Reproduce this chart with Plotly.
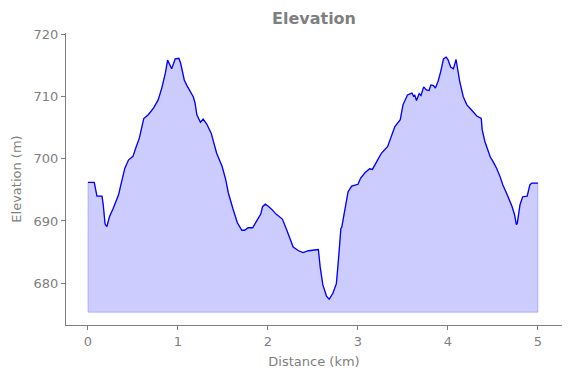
import plotly.graph_objects as go

distance_km = [0.0, 0.07, 0.10, 0.156, 0.17, 0.19, 0.21, 0.24, 0.28, 0.34, 0.37, 0.41, 0.45, 0.50,
               0.53, 0.57, 0.62, 0.67, 0.73, 0.78, 0.82, 0.86, 0.885, 0.93, 0.97, 1.01, 1.03, 1.07,
               1.10, 1.17, 1.19, 1.21, 1.25, 1.28, 1.32, 1.37, 1.43, 1.49, 1.53, 1.56, 1.61, 1.66,
               1.71, 1.74, 1.78, 1.83, 1.87, 1.92, 1.94, 1.97, 2.00, 2.04, 2.09, 2.16, 2.21, 2.28,
               2.34, 2.39, 2.45, 2.50, 2.55, 2.56, 2.58, 2.61, 2.65, 2.68, 2.72, 2.76, 2.78, 2.81,
               2.82, 2.86, 2.89, 2.93, 3.00, 3.03, 3.08, 3.13, 3.16, 3.21, 3.26, 3.33, 3.37, 3.41,
               3.47, 3.50, 3.55, 3.60, 3.62, 3.63, 3.65, 3.68, 3.70, 3.73, 3.76, 3.79, 3.81, 3.84,
               3.86, 3.89, 3.92, 3.95, 3.98, 4.00, 4.03, 4.06, 4.09, 4.10, 4.13, 4.17, 4.21, 4.26,
               4.32, 4.37, 4.38, 4.41, 4.44, 4.47, 4.50, 4.54, 4.58, 4.61, 4.65, 4.71, 4.74, 4.76,
               4.77, 4.80, 4.83, 4.88, 4.91, 4.93, 5.0]
elevation_m = [696.2, 696.2, 694.0, 694.0, 692.6, 689.5, 689.1, 690.7, 692.0, 694.2, 696.1, 698.5, 699.8, 700.4,
               701.7, 703.3, 706.5, 707.1, 708.2, 709.5, 711.4, 713.8, 715.9, 714.5, 716.1, 716.2, 715.4, 712.7,
               711.8, 710.0, 709.0, 707.1, 705.9, 706.4, 705.6, 704.1, 700.9, 698.8, 696.7, 694.5, 692.0, 689.7,
               688.5, 688.5, 688.9, 688.9, 689.9, 691.1, 692.3, 692.7, 692.4, 691.9, 691.1, 690.3, 688.5, 685.8,
               685.2, 684.9, 685.2, 685.3, 685.5, 685.4, 682.6, 679.7, 677.9, 677.4, 678.3, 679.9, 683.2, 688.8,
               689.0, 692.0, 694.7, 695.6, 695.9, 696.9, 697.8, 698.4, 698.3, 699.6, 700.9, 702.0, 703.6, 705.2,
               706.3, 708.7, 710.3, 710.6, 710.0, 710.3, 709.4, 710.5, 710.2, 711.6, 711.1, 711.0, 711.9, 711.8,
               711.4, 712.5, 714.1, 716.1, 716.4, 716.0, 714.8, 714.5, 716.0, 714.9, 712.5, 710.0, 708.7, 707.9,
               706.9, 706.5, 704.7, 702.8, 701.5, 700.3, 699.6, 698.5, 697.1, 695.8, 694.5, 692.4, 691.0, 689.4,
               689.6, 692.6, 693.9, 694.0, 695.8, 696.1, 696.1]
base_elevation = 675.3

x_ticks = [0, 1, 2, 3, 4, 5]
y_ticks = [680, 690, 700, 710, 720]

grey = "#7f7f7f"
font = "DejaVu Sans"

poly_x = [distance_km[0]] + distance_km + [distance_km[-1], distance_km[0]]
poly_y = [base_elevation] + elevation_m + [base_elevation, base_elevation]

fig = go.Figure()
fig.add_trace(go.Scatter(x=poly_x, y=poly_y, mode="lines", fill="toself",
                         fillcolor="rgba(0,0,255,0.2)",
                         line=dict(color="rgba(0,0,255,0.2)", width=1),
                         hoverinfo="skip", showlegend=False))
fig.add_trace(go.Scatter(x=distance_km, y=elevation_m, mode="lines",
                         line=dict(color="#0000ff", width=1.3), showlegend=False))

W, H = 563, 370
fig.update_layout(
    width=W, height=H,
    margin=dict(l=58, r=9, t=25, b=53, autoexpand=False),
    paper_bgcolor="white", plot_bgcolor="white",
    font=dict(family=font, size=13, color=grey),
    title=dict(text="<b>Elevation</b>", x=306 / W, xref="container",
               xanchor="center", y=1 - 10 / H, yref="container", yanchor="middle",
               automargin=False, font=dict(family=font, size=16, color=grey)),
    xaxis=dict(range=[-0.244, 5.267], tickvals=x_ticks, ticks="outside", ticklen=4,
               tickcolor=grey, showline=True, linecolor=grey, linewidth=1, showgrid=False,
               zeroline=False, automargin=False,
               title=dict(text="Distance (km)", font=dict(size=13, color=grey), standoff=9)),
    yaxis=dict(range=[673.24, 720.27], tickvals=y_ticks, ticks="outside", ticklen=4,
               tickcolor=grey, showline=True, linecolor=grey, linewidth=1, showgrid=False,
               zeroline=False, automargin=False,
               title=dict(text="Elevation (m)", font=dict(size=13, color=grey), standoff=9)),
)

fig.write_html("out.html")
